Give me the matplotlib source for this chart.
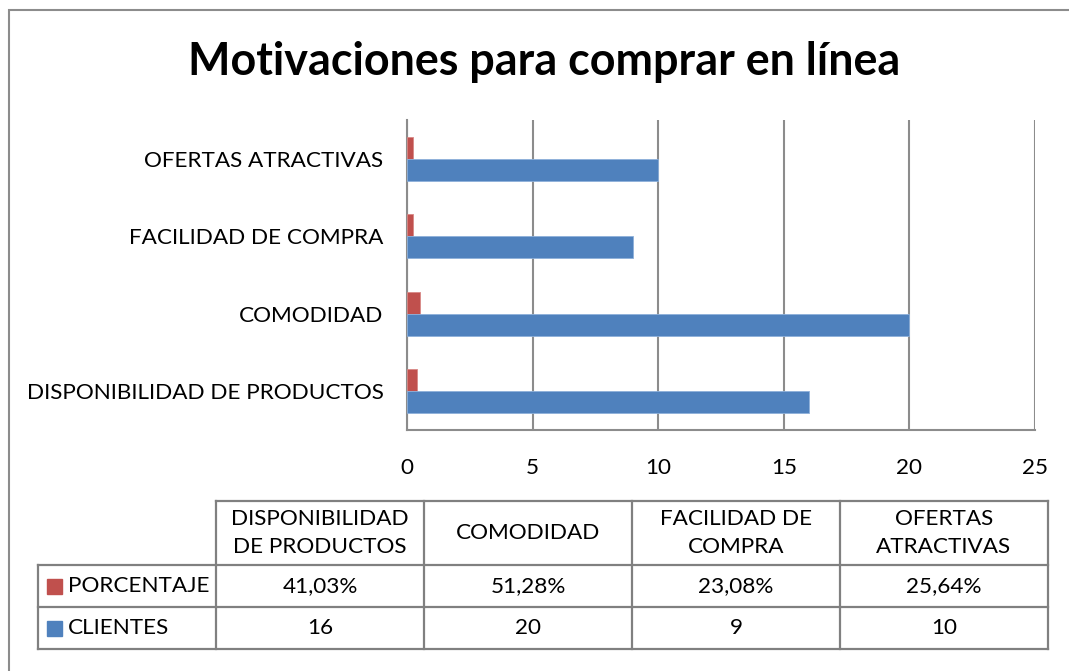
import matplotlib
matplotlib.use('Agg')
import matplotlib.pyplot as plt
from matplotlib.patches import Rectangle

plt.rcParams['font.family'] = ['Lato', 'DejaVu Sans']

# data
categorias = ['DISPONIBILIDAD DE PRODUCTOS', 'COMODIDAD', 'FACILIDAD DE COMPRA', 'OFERTAS ATRACTIVAS']
encabezados = ['DISPONIBILIDAD\nDE PRODUCTOS', 'COMODIDAD', 'FACILIDAD DE\nCOMPRA', 'OFERTAS\nATRACTIVAS']
porcentaje = [0.4103, 0.5128, 0.2308, 0.2564]
clientes = [16, 20, 9, 10]
series = ['PORCENTAJE', 'CLIENTES']
xticks = [0, 5, 10, 15, 20, 25]

azul = '#4F81BD'
rojo = '#C0504D'
gris = '#8C8C8C'

W, H = 1069, 671
fig = plt.figure(figsize=(W / 100, H / 100), dpi=100)


def fx(px):
    return px / W


def fy(py):
    return 1 - py / H


# outer chart frame
fig.patches.append(Rectangle((fx(9), fy(690)), fx(1080) - fx(9), fy(10) - fy(690),
                             transform=fig.transFigure, fill=False, ec=gris, lw=1.5))

fig.text(fx(544), fy(62), 'Motivaciones para comprar en línea', ha='center', va='center',
         fontsize=32.3, fontweight='bold')

# bar chart
ax = fig.add_axes([fx(407), fy(430), fx(1035) - fx(407), fy(120) - fy(430)])
pos = list(range(len(categorias)))
h = 0.284
ax.barh([p + h / 2 for p in pos], porcentaje, height=h, color=rojo, edgecolor='#D98886', lw=0.6, zorder=3)
ax.barh([p - h / 2 for p in pos], clientes, height=h, color=azul, edgecolor='#8EB0DA', lw=0.6, zorder=3)
ax.set_xlim(0, 25)
ax.set_ylim(-0.5, len(categorias) - 0.5)
ax.set_xticks(xticks)
ax.set_yticks(pos)
ax.set_yticklabels(categorias)
ax.tick_params(length=0, labelsize=16.2)
ax.tick_params(axis='x', pad=20)
ax.tick_params(axis='y', pad=17)
ax.grid(axis='x', color=gris, lw=1.5, zorder=0)
for s in ['top', 'right']:
    ax.spines[s].set_visible(False)
for s in ['left', 'bottom']:
    ax.spines[s].set_color(gris)
    ax.spines[s].set_linewidth(1.5)

# data table below the chart
tab = fig.add_axes([0, 0, 1, 1], zorder=-1)
tab.set_xlim(0, W)
tab.set_ylim(H, 0)
tab.axis('off')
cols = [38, 216, 424, 632, 840, 1048]
rows = [501, 565, 607, 649]
kw = dict(color='#808080', lw=1.6)
tab.plot([cols[1], cols[-1]], [rows[0], rows[0]], **kw)
for r in rows[1:]:
    tab.plot([cols[0], cols[-1]], [r, r], **kw)
tab.plot([cols[0], cols[0]], [rows[1], rows[-1]], **kw)
for c in cols[1:]:
    tab.plot([c, c], [rows[0], rows[-1]], **kw)

fs = 16.2
for i, enc in enumerate(encabezados):
    xc = (cols[i + 1] + cols[i + 2]) / 2
    tab.text(xc, (rows[0] + rows[1]) / 2, enc, ha='center', va='center', fontsize=fs, linespacing=1.55)
    tab.text(xc, (rows[1] + rows[2]) / 2, f'{porcentaje[i] * 100:.2f}%'.replace('.', ','),
             ha='center', va='center', fontsize=fs)
    tab.text(xc, (rows[2] + rows[3]) / 2, str(clientes[i]), ha='center', va='center', fontsize=fs)

for j, (nom, col) in enumerate(zip(series, [rojo, azul])):
    yc = (rows[j + 1] + rows[j + 2]) / 2
    tab.add_patch(Rectangle((47, yc - 7.5), 15, 15, color=col))
    tab.text(68, yc, nom, ha='left', va='center', fontsize=fs)

fig.savefig('out.png', dpi=100)
